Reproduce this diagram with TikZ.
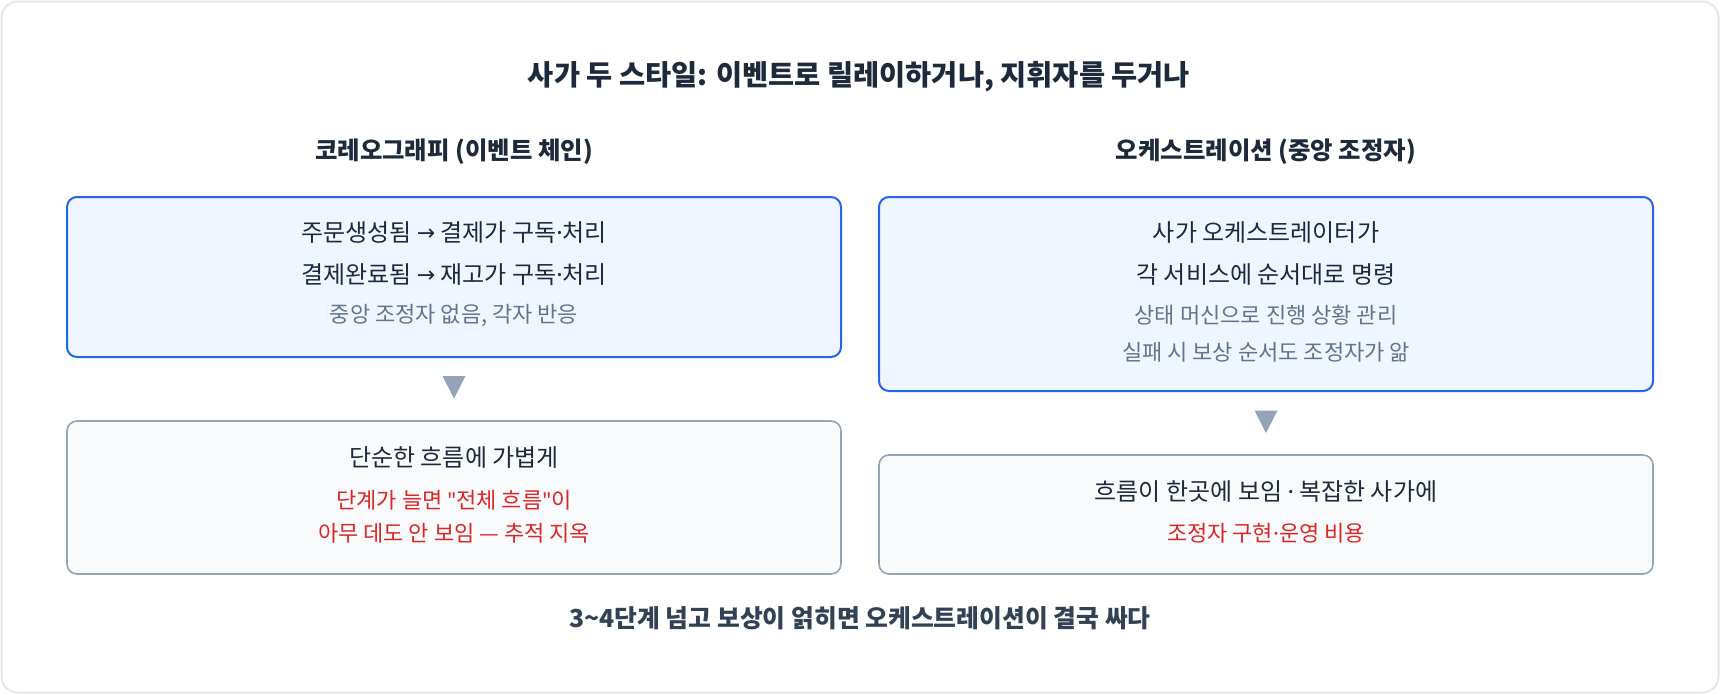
\documentclass[tikz,border=0pt]{standalone}
\usepackage{fontspec}
\usetikzlibrary{calc}
\setmainfont{Noto Sans CJK KR}
\newfontfamily\latinfont{Noto Sans}
\newfontfamily\symfont{DejaVu Sans}
\newcommand{\mydot}{{\latinfont ·}}
\newcommand{\myquote}{{\latinfont "}}
\newcommand{\myarrow}{\raisebox{1pt}{\symfont\fontsize{22}{24}\selectfont →}}
\definecolor{txt}{HTML}{1E293B}
\definecolor{sub}{HTML}{64748B}
\definecolor{warn}{HTML}{DC2626}
\definecolor{blueline}{HTML}{2563EB}
\definecolor{bluefill}{HTML}{EFF6FF}
\definecolor{grayline}{HTML}{94A3B8}
\definecolor{grayfill}{HTML}{F8FAFC}
\definecolor{frameline}{HTML}{E5E7EB}
\definecolor{foot}{HTML}{334155}
\tikzset{
  hotbox/.style={draw=blueline, fill=bluefill, line width=2pt, rounded corners=10pt, minimum width=774pt, inner sep=0pt},
  coolbox/.style={draw=grayline, fill=grayfill, line width=1.6pt, rounded corners=10pt, minimum width=774pt, inner sep=0pt},
  maintxt/.style={text=txt, font=\fontsize{24}{28}\selectfont, inner sep=0pt},
  subtxt/.style={text=sub, font=\fontsize{22}{26}\selectfont, inner sep=0pt},
  warntxt/.style={text=warn, font=\fontsize{22}{26}\selectfont, inner sep=0pt},
  headtxt/.style={text=txt, font=\fontsize{24.4}{28}\selectfont\bfseries, inner sep=0pt},
  titletxt/.style={text=txt, font=\fontsize{28.4}{32}\selectfont\bfseries, inner sep=0pt},
  foottxt/.style={text=foot, font=\fontsize{24.8}{28}\selectfont\bfseries, inner sep=0pt},
  downtip/.style={fill=grayline}
}
\begin{document}
\begin{tikzpicture}[x=1pt,y=-1pt]
\useasboundingbox (0,0) rectangle (1720,694);
\draw[frameline, line width=2pt, fill=white, rounded corners=16pt] (1.5,1.5) rectangle (1718.5,692.5);

\node[titletxt] (title) at (859,76.5) {사가 두 스타일: 이벤트로 릴레이하거나, 지휘자를 두거나};
\node[headtxt] (lhead) at (454,152) {코레오그래피 (이벤트 체인)};
\node[headtxt] (rhead) at (1266,152) {오케스트레이션 (중앙 조정자)};

% left column
\node[hotbox, minimum height=160pt] (lt) at (454,277) {};
\node[maintxt] (lt1) at (454,233) {주문생성됨 \myarrow{} 결제가 구독\mydot 처리};
\node[maintxt] (lt2) at (454,275) {결제완료됨 \myarrow{} 재고가 구독\mydot 처리};
\node[subtxt] (lt3) at (454,315) {중앙 조정자 없음, 각자 반응};

\node[coolbox, minimum height=153pt] (lb) at (454,497.5) {};
\node[maintxt] (lb1) at (454,458) {단순한 흐름에 가볍게};
\node[warntxt] (lb2) at (454,500) {단계가 늘면 \myquote 전체 흐름\myquote 이};
\node[warntxt] (lb3) at (454,533) {아무 데도 안 보임 — 추적 지옥};

\fill[downtip] ($(lt.south)+(-11.5,18)$) -- ($(lt.south)+(11.5,18)$) -- ($(lt.south)+(0,40.5)$) -- cycle;

% right column
\node[hotbox, minimum height=194pt] (rt) at (1266,294) {};
\node[maintxt] (rt1) at (1266,233) {사가 오케스트레이터가};
\node[maintxt] (rt2) at (1266,275) {각 서비스에 순서대로 명령};
\node[subtxt] (rt3) at (1266,315) {상태 머신으로 진행 상황 관리};
\node[subtxt] (rt4) at (1266,352) {실패 시 보상 순서도 조정자가 앎};

\node[coolbox, minimum height=119pt] (rb) at (1266,514.5) {};
\node[maintxt] (rb1) at (1266,492) {흐름이 한곳에 보임 \mydot{} 복잡한 사가에};
\node[warntxt] (rb2) at (1266,533) {조정자 구현\mydot 운영 비용};

\fill[downtip] ($(rt.south)+(-11.5,18.5)$) -- ($(rt.south)+(11.5,18.5)$) -- ($(rt.south)+(0,41)$) -- cycle;

\node[foottxt] (footer) at (860,618) {3\textasciitilde4단계 넘고 보상이 얽히면 오케스트레이션이 결국 싸다};
\end{tikzpicture}
\end{document}
